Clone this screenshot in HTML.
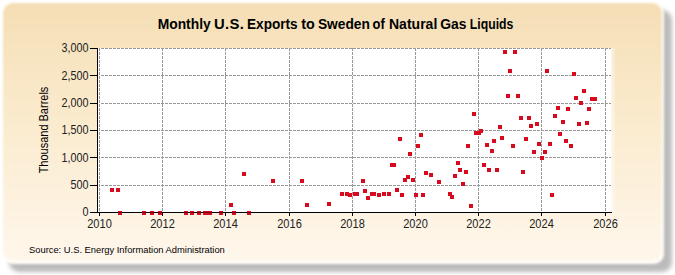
<!DOCTYPE html>
<html><head><meta charset="utf-8"><style>
html,body{margin:0;padding:0;background:#fff;}
body{width:675px;height:275px;position:relative;overflow:hidden;font-family:"Liberation Sans",sans-serif;}
svg{position:absolute;left:0;top:0;}
</style></head><body>
<svg width="675" height="275" style="position:absolute;left:0;top:0">
<defs><linearGradient id="g" x1="0" y1="0" x2="0" y2="1"><stop offset="0" stop-color="#F5DEB5"/><stop offset="0.5" stop-color="#FBECD0"/><stop offset="1" stop-color="#FFF7EC"/></linearGradient>
<filter id="sf" x="-5%" y="-5%" width="110%" height="110%"><feGaussianBlur stdDeviation="2"/></filter>
<filter id="pf" x="-5%" y="-5%" width="110%" height="110%"><feGaussianBlur stdDeviation="1"/></filter></defs>
<rect x="9" y="10" width="663" height="262" rx="10" fill="#bbb" filter="url(#sf)"/>
<g filter="url(#pf)">
<rect x="3" y="3" width="661" height="261" rx="10" fill="#fffdf8"/>
<rect x="3" y="3" width="659" height="258" rx="10" fill="url(#g)"/>
</g></svg>
<svg width="675" height="275" viewBox="0 0 675 275">
<defs><linearGradient id="rg" x1="0" x2="1" y1="0" y2="0"><stop offset="0" stop-color="#fff" stop-opacity="0.65"/><stop offset="1" stop-color="#fff" stop-opacity="0"/></linearGradient></defs>
<rect x="611" y="48" width="5" height="164" fill="url(#rg)"/>
<rect x="98" y="48" width="513" height="164" fill="#fff"/>
<g stroke="#999" stroke-width="1" stroke-dasharray="3,1" fill="none" shape-rendering="crispEdges">
<line x1="99.5" y1="48" x2="99.5" y2="212" />
<line x1="162.5" y1="48" x2="162.5" y2="212" />
<line x1="225.5" y1="48" x2="225.5" y2="212" />
<line x1="289.5" y1="48" x2="289.5" y2="212" />
<line x1="352.5" y1="48" x2="352.5" y2="212" />
<line x1="415.5" y1="48" x2="415.5" y2="212" />
<line x1="478.5" y1="48" x2="478.5" y2="212" />
<line x1="541.5" y1="48" x2="541.5" y2="212" />
<line x1="605.5" y1="48" x2="605.5" y2="212" />
<line x1="101" y1="48.5" x2="611" y2="48.5" />
<line x1="101" y1="75.5" x2="611" y2="75.5" />
<line x1="101" y1="103.5" x2="611" y2="103.5" />
<line x1="101" y1="130.5" x2="611" y2="130.5" />
<line x1="101" y1="157.5" x2="611" y2="157.5" />
<line x1="101" y1="185.5" x2="611" y2="185.5" />
</g>
<g stroke="#000" stroke-width="1" shape-rendering="crispEdges">
<line x1="97.5" y1="48" x2="97.5" y2="213"/>
<line x1="97" y1="212.5" x2="612" y2="212.5"/>
</g>
<g fill="#D80A1E" shape-rendering="crispEdges">
<rect x="110" y="188" width="4" height="4"/>
<rect x="116" y="188" width="4" height="4"/>
<rect x="118" y="211" width="4" height="4"/>
<rect x="142" y="211" width="4" height="4"/>
<rect x="150" y="211" width="4" height="4"/>
<rect x="158" y="211" width="4" height="4"/>
<rect x="184" y="211" width="4" height="4"/>
<rect x="190" y="211" width="4" height="4"/>
<rect x="197" y="211" width="4" height="4"/>
<rect x="203" y="211" width="4" height="4"/>
<rect x="206" y="211" width="4" height="4"/>
<rect x="208" y="211" width="4" height="4"/>
<rect x="219" y="211" width="4" height="4"/>
<rect x="229" y="203" width="4" height="4"/>
<rect x="232" y="211" width="4" height="4"/>
<rect x="242" y="172" width="4" height="4"/>
<rect x="247" y="211" width="4" height="4"/>
<rect x="271" y="179" width="4" height="4"/>
<rect x="300" y="179" width="4" height="4"/>
<rect x="305" y="203" width="4" height="4"/>
<rect x="327" y="202" width="4" height="4"/>
<rect x="340" y="192" width="4" height="4"/>
<rect x="345" y="192" width="4" height="4"/>
<rect x="348" y="193" width="4" height="4"/>
<rect x="353" y="192" width="4" height="4"/>
<rect x="355" y="192" width="4" height="4"/>
<rect x="361" y="179" width="4" height="4"/>
<rect x="363" y="189" width="4" height="4"/>
<rect x="366" y="196" width="4" height="4"/>
<rect x="370" y="192" width="4" height="4"/>
<rect x="372" y="192" width="4" height="4"/>
<rect x="377" y="193" width="4" height="4"/>
<rect x="382" y="192" width="4" height="4"/>
<rect x="387" y="192" width="4" height="4"/>
<rect x="390" y="163" width="4" height="4"/>
<rect x="392" y="163" width="4" height="4"/>
<rect x="395" y="188" width="4" height="4"/>
<rect x="398" y="137" width="4" height="4"/>
<rect x="400" y="193" width="4" height="4"/>
<rect x="403" y="178" width="4" height="4"/>
<rect x="406" y="175" width="4" height="4"/>
<rect x="408" y="152" width="4" height="4"/>
<rect x="411" y="178" width="4" height="4"/>
<rect x="414" y="193" width="4" height="4"/>
<rect x="416" y="144" width="4" height="4"/>
<rect x="419" y="133" width="4" height="4"/>
<rect x="421" y="193" width="4" height="4"/>
<rect x="424" y="171" width="4" height="4"/>
<rect x="429" y="173" width="4" height="4"/>
<rect x="437" y="180" width="4" height="4"/>
<rect x="448" y="192" width="4" height="4"/>
<rect x="450" y="195" width="4" height="4"/>
<rect x="453" y="174" width="4" height="4"/>
<rect x="456" y="161" width="4" height="4"/>
<rect x="458" y="168" width="4" height="4"/>
<rect x="461" y="182" width="4" height="4"/>
<rect x="464" y="170" width="4" height="4"/>
<rect x="466" y="144" width="4" height="4"/>
<rect x="469" y="204" width="4" height="4"/>
<rect x="472" y="112" width="4" height="4"/>
<rect x="474" y="131" width="4" height="4"/>
<rect x="477" y="131" width="4" height="4"/>
<rect x="479" y="129" width="4" height="4"/>
<rect x="482" y="163" width="4" height="4"/>
<rect x="485" y="143" width="4" height="4"/>
<rect x="487" y="168" width="4" height="4"/>
<rect x="490" y="149" width="4" height="4"/>
<rect x="492" y="139" width="4" height="4"/>
<rect x="495" y="168" width="4" height="4"/>
<rect x="498" y="125" width="4" height="4"/>
<rect x="500" y="136" width="4" height="4"/>
<rect x="503" y="50" width="4" height="4"/>
<rect x="506" y="94" width="4" height="4"/>
<rect x="508" y="69" width="4" height="4"/>
<rect x="511" y="144" width="4" height="4"/>
<rect x="513" y="50" width="4" height="4"/>
<rect x="516" y="94" width="4" height="4"/>
<rect x="519" y="116" width="4" height="4"/>
<rect x="521" y="170" width="4" height="4"/>
<rect x="524" y="137" width="4" height="4"/>
<rect x="527" y="116" width="4" height="4"/>
<rect x="529" y="124" width="4" height="4"/>
<rect x="532" y="150" width="4" height="4"/>
<rect x="535" y="122" width="4" height="4"/>
<rect x="537" y="142" width="4" height="4"/>
<rect x="540" y="156" width="4" height="4"/>
<rect x="543" y="150" width="4" height="4"/>
<rect x="545" y="69" width="4" height="4"/>
<rect x="548" y="142" width="4" height="4"/>
<rect x="550" y="193" width="4" height="4"/>
<rect x="553" y="114" width="4" height="4"/>
<rect x="556" y="106" width="4" height="4"/>
<rect x="558" y="132" width="4" height="4"/>
<rect x="561" y="120" width="4" height="4"/>
<rect x="564" y="139" width="4" height="4"/>
<rect x="566" y="107" width="4" height="4"/>
<rect x="569" y="144" width="4" height="4"/>
<rect x="572" y="72" width="4" height="4"/>
<rect x="574" y="96" width="4" height="4"/>
<rect x="577" y="122" width="4" height="4"/>
<rect x="579" y="101" width="4" height="4"/>
<rect x="582" y="89" width="4" height="4"/>
<rect x="585" y="121" width="4" height="4"/>
<rect x="587" y="107" width="4" height="4"/>
<rect x="590" y="97" width="4" height="4"/>
<rect x="593" y="97" width="4" height="4"/>
</g>
<line x1="97" y1="212.5" x2="612" y2="212.5" stroke="#000" stroke-opacity="0.45" shape-rendering="crispEdges"/>
<g stroke="#000" stroke-width="1" shape-rendering="crispEdges">
<line x1="90" y1="48.5" x2="98" y2="48.5"/>
<line x1="90" y1="75.5" x2="98" y2="75.5"/>
<line x1="90" y1="103.5" x2="98" y2="103.5"/>
<line x1="90" y1="130.5" x2="98" y2="130.5"/>
<line x1="90" y1="157.5" x2="98" y2="157.5"/>
<line x1="90" y1="185.5" x2="98" y2="185.5"/>
<line x1="90" y1="212.5" x2="98" y2="212.5"/>
<line x1="99.5" y1="212" x2="99.5" y2="216"/>
<line x1="162.5" y1="212" x2="162.5" y2="216"/>
<line x1="225.5" y1="212" x2="225.5" y2="216"/>
<line x1="289.5" y1="212" x2="289.5" y2="216"/>
<line x1="352.5" y1="212" x2="352.5" y2="216"/>
<line x1="415.5" y1="212" x2="415.5" y2="216"/>
<line x1="478.5" y1="212" x2="478.5" y2="216"/>
<line x1="541.5" y1="212" x2="541.5" y2="216"/>
<line x1="605.5" y1="212" x2="605.5" y2="216"/>
</g>
<g font-family="Liberation Sans" font-size="12" fill="#222">
<text transform="translate(88.5,52) scale(0.9,1)" text-anchor="end">3,000</text>
<text transform="translate(88.5,80) scale(0.9,1)" text-anchor="end">2,500</text>
<text transform="translate(88.5,107) scale(0.9,1)" text-anchor="end">2,000</text>
<text transform="translate(88.5,134) scale(0.9,1)" text-anchor="end">1,500</text>
<text transform="translate(88.5,162) scale(0.9,1)" text-anchor="end">1,000</text>
<text transform="translate(88.5,189) scale(0.9,1)" text-anchor="end">500</text>
<text transform="translate(88.5,216) scale(0.9,1)" text-anchor="end">0</text>
<text transform="translate(99.5,228) scale(0.92,1)" text-anchor="middle">2010</text>
<text transform="translate(162.5,228) scale(0.92,1)" text-anchor="middle">2012</text>
<text transform="translate(225.5,228) scale(0.92,1)" text-anchor="middle">2014</text>
<text transform="translate(289.5,228) scale(0.92,1)" text-anchor="middle">2016</text>
<text transform="translate(352.5,228) scale(0.92,1)" text-anchor="middle">2018</text>
<text transform="translate(415.5,228) scale(0.92,1)" text-anchor="middle">2020</text>
<text transform="translate(478.5,228) scale(0.92,1)" text-anchor="middle">2022</text>
<text transform="translate(541.5,228) scale(0.92,1)" text-anchor="middle">2024</text>
<text transform="translate(605.5,228) scale(0.92,1)" text-anchor="middle">2026</text>
</g>
<g font-family="Liberation Sans" font-weight="bold" font-size="14" fill="#000">
<text transform="translate(157.71,29) scale(0.988,1)">Monthly</text>
<text transform="translate(214.1,29) scale(1.06,1)" letter-spacing="0.3">U.S.</text>
<text transform="translate(247.03,29) scale(0.973,1)">Exports</text>
<text transform="translate(301.30,29) scale(1.023,1)">to</text>
<text transform="translate(317.92,29) scale(0.984,1)">Sweden</text>
<text transform="translate(372.57,29) scale(0.925,1)">of</text>
<text transform="translate(389.00,29) scale(1.002,1)">Natural</text>
<text transform="translate(440.21,29) scale(0.992,1)">Gas</text>
<text transform="translate(469.82,29) scale(0.877,1)">Liquids</text>
</g>
<text transform="translate(29,253) scale(0.965,1)" font-family="Liberation Sans" font-size="9.7" fill="#000">Source: U.S. Energy Information Administration</text>
<text transform="translate(48,130) rotate(-90) scale(0.915,1)" text-anchor="middle" font-family="Liberation Sans" font-size="12" fill="#000">Thousand Barrels</text>
</svg>
</body></html>
